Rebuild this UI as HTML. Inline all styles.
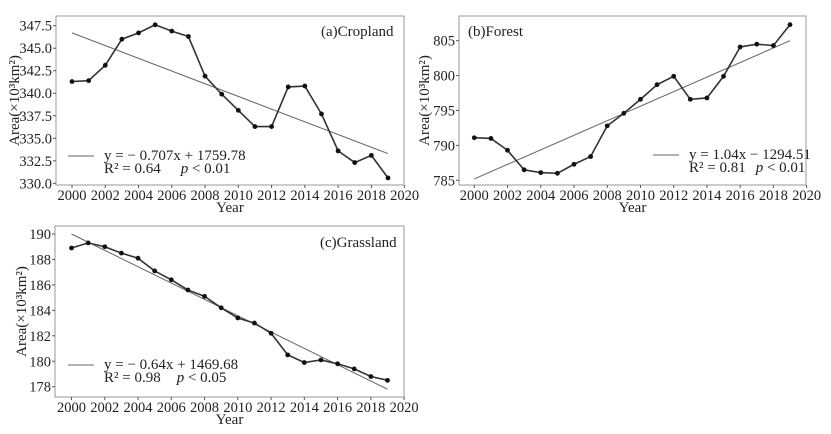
<!DOCTYPE html>
<html><head><meta charset="utf-8"><style>
html,body{margin:0;padding:0;background:#fff;}
svg{display:block;font-family:"Liberation Serif",serif;}
</style></head><body>
<svg id="s" width="831" height="434" xmlns="http://www.w3.org/2000/svg"></svg>
<script>
const S=document.getElementById('s');let h='';
function panel(o){
 const {L,R,T,B,x0,x19,yv0,yp0,yv1,yp1,data,tr,ticks,fmt}=o;
 const px=y=>x0+(y-2000)*(x19-x0)/19;
 const py=v=>yp0+(v-yv0)*(yp1-yp0)/(yv1-yv0);
 h+=`<rect x="${L}" y="${T}" width="${R-L}" height="${B-T}" fill="none" stroke="#999" stroke-width="1"/>`;
 for(let y=2000;y<=2020;y+=2){const x=px(y);h+=`<line x1="${x}" y1="${B}" x2="${x}" y2="${B+3}" stroke="#555"/><text x="${x}" y="${B+15}" font-size="14.5" text-anchor="middle" fill="#222">${y}</text>`;}
 ticks.forEach(v=>{const y=py(v);h+=`<line x1="${L-3}" y1="${y}" x2="${L}" y2="${y}" stroke="#555"/><text x="${L-4}" y="${y+5}" font-size="14.5" text-anchor="end" fill="#222">${fmt(v)}</text>`;});
 h+=`<line x1="${px(2000)}" y1="${py(tr[0])}" x2="${px(2019)}" y2="${py(tr[1])}" stroke="#666" stroke-width="1"/>`;
 h+=`<polyline fill="none" stroke="#333" stroke-width="1.6" points="${data.map((v,i)=>px(2000+i)+','+py(v)).join(' ')}"/>`;
 data.forEach((v,i)=>h+=`<circle cx="${px(2000+i)}" cy="${py(v)}" r="2.4" fill="#111"/>`);
 h+=`<text x="${(L+R)/2}" y="${B+27}" font-size="15" text-anchor="middle" fill="#222">Year</text>`;
 const cy=(T+B)/2;h+=`<text transform="translate(${o.ylx},${cy}) rotate(-90)" font-size="15" text-anchor="middle" fill="#222">Area(×10³km²)</text>`;
 h+=`<text x="${o.tx}" y="${o.ty}" font-size="15" fill="#222">${o.title}</text>`;
 h+=`<line x1="${o.lx}" y1="${o.ly}" x2="${o.lx+26}" y2="${o.ly}" stroke="#666"/>`;
 h+=`<text x="${o.lx+36}" y="${o.ly+4}" font-size="15" fill="#222">${o.eq}</text>`;
 h+=`<text x="${o.lx+36}" y="${o.ly+17}" font-size="15" fill="#222">R² = ${o.r2}<tspan dx="${o.pd}" font-style="italic">p</tspan> &lt; ${o.p}</text>`;
}
panel({L:56,R:404,T:16,B:185,x0:72,x19:388,yv0:347.5,yp0:25.7,yv1:330,yp1:183.3,
 data:[341.3,341.4,343.1,346.0,346.7,347.6,346.9,346.3,341.9,339.9,338.1,336.3,336.3,340.7,340.8,337.7,333.6,332.3,333.1,330.6],
 tr:[346.7,333.3],ticks:[330,332.5,335,337.5,340,342.5,345,347.5],fmt:v=>v.toFixed(1),ylx:19,
 title:'(a)Cropland',tx:321,ty:36,lx:68,ly:156,eq:'y = − 0.707x + 1759.78',r2:'0.64',pd:20,p:'0.01'});
panel({L:459,R:806,T:16,B:185,x0:474.3,x19:790,yv0:805,yp0:40.7,yv1:785,yp1:180.3,
 data:[791.1,791.0,789.3,786.5,786.1,786.0,787.3,788.4,792.8,794.6,796.6,798.7,799.9,796.6,796.8,799.9,804.1,804.5,804.3,807.3],
 tr:[785.2,805.0],ticks:[785,790,795,800,805],fmt:v=>v,ylx:429,
 title:'(b)Forest',tx:468,ty:36,lx:653,ly:155,eq:'y = 1.04x − 1294.51',r2:'0.81',pd:10,p:'0.01'});
panel({L:55,R:404,T:226,B:397,x0:71.5,x19:387.5,yv0:190,yp0:234,yv1:178,yp1:386.7,
 data:[188.9,189.3,189.0,188.5,188.1,187.1,186.4,185.6,185.1,184.2,183.4,183.0,182.2,180.5,179.9,180.1,179.8,179.4,178.8,178.5],
 tr:[190.0,177.8],ticks:[178,180,182,184,186,188,190],fmt:v=>v,ylx:26,
 title:'(c)Grassland',tx:320,ty:247,lx:68,ly:365,eq:'y = − 0.64x + 1469.68',r2:'0.98',pd:16,p:'0.05'});
S.innerHTML=h;
</script>
</body></html>
